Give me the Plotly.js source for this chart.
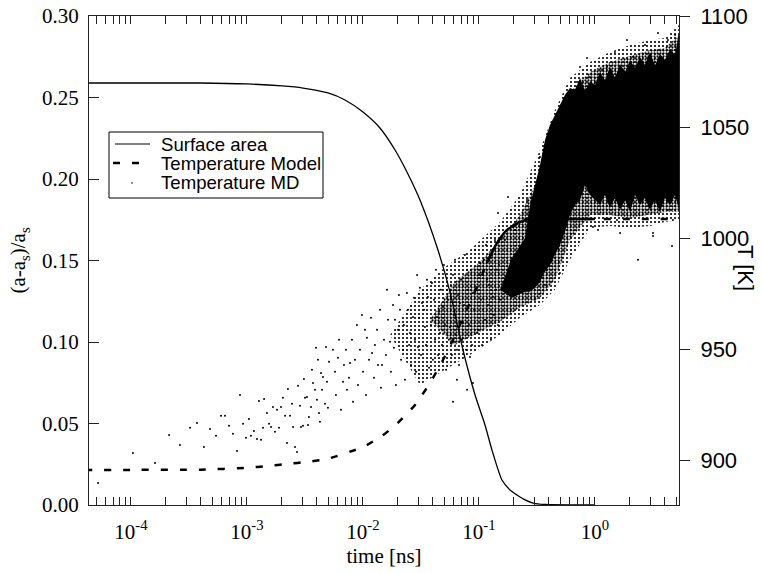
<!DOCTYPE html>
<html><head><meta charset="utf-8">
<script src="https://cdn.plot.ly/plotly-3.0.1.min.js"></script>
<style>html,body{margin:0;padding:0;background:#fff}#chart{width:763px;height:573px}</style>
</head><body><div id="chart"></div>
<script>
// ---- Surface area (left axis) ----
const surfTime = [4e-5, 3.94e-4, 1e-3, 2.0e-3, 3.04e-3, 4.99e-3, 7.0e-3, 0.01, 0.0140, 0.0189, 0.0244, 0.0310, 0.0443, 0.0562, 0.0728, 0.0925, 0.1127, 0.1294, 0.1578, 0.185, 0.2128, 0.2493, 0.2924, 0.3707, 1.0];
const surfValue = [0.2589, 0.2589, 0.2583, 0.2571, 0.2558, 0.2528, 0.2485, 0.2411, 0.2313, 0.2178, 0.2031, 0.1871, 0.1564, 0.1307, 0.0951, 0.0675, 0.0491, 0.0337, 0.0153, 0.0092, 0.0061, 0.0031, 0.0012, 0.0003, 0.0];

// ---- Temperature model (right axis, K) ----
const modelTime = [4e-5, 1e-4, 4e-4, 1e-3, 1.52e-3, 2.25e-3, 3.29e-3, 4.9e-3, 0.01, 0.0146, 0.0196, 0.0281, 0.0378, 0.048, 0.0585, 0.0804, 0.102, 0.117, 0.143, 0.174, 0.225, 0.275, 0.5, 1.0, 2.0, 6.0];
const modelT = [895.8, 895.8, 895.9, 896.7, 897.6, 898.5, 899.4, 900.7, 906.1, 911.1, 916.5, 925.0, 934.9, 944.4, 953.4, 969.1, 981.2, 988.9, 997.9, 1003.7, 1007.3, 1008.7, 1008.7, 1008.7, 1008.7, 1008.7];

// ---- Temperature MD: individual points (log10 of time in ns, T in K) ----
const mdEarlyLogTime = [-4.284, -3.983, -3.793, -3.672, -3.578, -3.491, -3.431, -3.371, -3.319, -3.267, -3.224, -3.190, -3.155, -3.121, -3.086, -3.060, -3.034, -3.009, -2.983, -2.966, -2.940, -2.914, -2.897, -2.879, -2.862, -2.853, -2.828, -2.810, -2.793, -2.776, -2.759, -2.741, -2.724, -2.707, -2.690, -2.672, -2.655, -2.647, -2.629, -2.612, -2.603, -2.586, -2.569, -2.560, -2.543, -2.534, -2.517, -2.509, -2.500, -2.483, -2.474, -2.466, -2.448, -2.440, -2.431, -2.414, -2.405, -2.397, -2.388, -2.379, -2.371, -2.362, -2.353, -2.345, -2.328, -2.319, -2.310, -2.302, -2.293];
const mdEarlyT = [889.9, 903.4, 898.9, 911.5, 907.0, 914.7, 916.9, 906.1, 914.2, 911.1, 920.1, 920.1, 915.6, 912.0, 904.3, 929.5, 916.5, 910.2, 918.7, 911.1, 913.3, 909.7, 926.8, 909.3, 914.7, 927.7, 921.4, 916.5, 915.1, 924.1, 912.9, 922.8, 914.7, 924.1, 928.2, 920.1, 907.9, 932.2, 920.1, 925.5, 915.1, 906.1, 903.9, 933.6, 924.6, 915.1, 915.6, 936.7, 928.2, 928.6, 916.0, 919.6, 924.1, 940.8, 934.9, 931.8, 950.7, 927.3, 945.3, 921.4, 917.4, 939.4, 931.8, 937.6, 925.5, 951.1, 935.4, 923.7, 944.4];

const mdMidLogTime = [-2.259, -2.216, -2.172, -2.112, -2.052, -2.009, -1.966, -1.922, -1.879, -1.836, -1.793, -1.767, -1.724, -1.681, -1.655, -1.621, -1.595, -1.569, -1.534, -1.526, -1.491, -1.466, -1.440, -1.405, -1.397, -1.362, -1.336, -1.310, -1.276, -1.250, -1.224, -1.190, -1.164, -1.138, -1.103, -1.078, -1.052, -1.017, -0.991, -0.966, -0.931, -0.905, -0.879, -0.845, -1.103, -1.190, -1.052, -1.224,
  -2.241, -2.233, -2.207, -2.190, -2.164, -2.147, -2.138, -2.121, -2.095, -2.086, -2.069, -2.043, -2.026, -2.000, -1.983, -1.974, -1.948, -1.931, -1.905, -1.897, -1.871, -1.853, -1.845, -1.819, -1.802, -1.784, -1.759, -1.741, -1.733, -1.716, -1.698, -1.690, -1.672, -1.647, -1.638, -1.612, -1.603, -1.586, -1.560, -1.552, -1.543, -1.517, -1.509, -1.500, -1.474, -1.457, -1.448, -1.431, -1.414, -1.388, -1.379, -1.371, -1.353, -1.345, -1.328, -1.319, -1.302, -1.293, -1.284, -1.267, -1.259, -1.241, -1.233, -1.216, -1.207, -1.198, -1.181, -1.172, -1.155, -1.147, -1.129, -1.121, -1.112, -1.095, -1.086, -1.069, -1.060, -1.043, -1.034, -1.026, -1.009, -1.000, -0.983, -0.974, -0.957, -0.948, -0.940, -0.922, -0.914, -0.897, -0.888, -0.871, -0.862, -0.853, -0.836, -0.828, -0.819];
const mdMidT = [949.8, 946.2, 935.4, 943.9, 961.0, 965.5, 955.2, 948.4, 958.8, 943.0, 976.8, 953.4, 963.3, 967.8, 949.8, 975.4, 957.4, 964.6, 983.5, 951.1, 970.9, 960.1, 973.6, 979.9, 945.3, 964.6, 957.4, 969.1, 976.8, 960.1, 983.5, 949.8, 970.9, 961.9, 985.8, 946.6, 975.4, 957.4, 988.9, 967.8, 981.3, 958.8, 973.6, 985.8, 931.8, 936.3, 934.9, 926.4,
  939.9, 929.5, 954.3, 922.8, 943.0, 949.8, 931.8, 937.2, 954.3, 926.4, 945.3, 934.0, 949.8, 939.9, 958.8, 929.5, 945.3, 964.2, 937.2, 952.0, 943.0, 967.8, 932.7, 954.3, 947.5, 963.3, 939.9, 970.0, 950.7, 934.0, 958.8, 974.5, 945.3, 961.0, 936.3, 967.8, 952.0, 943.0, 973.2, 954.3, 939.9, 964.2, 977.7, 947.5, 967.8, 952.0, 981.3, 941.7, 961.0, 972.3, 954.3, 985.8, 947.5, 966.9, 976.8, 952.0, 988.0, 961.0, 940.8, 972.3, 954.3, 979.0, 947.5, 965.5, 990.3, 956.5, 974.5, 943.0, 981.3, 954.3, 970.0, 992.5, 949.8, 976.8, 961.0, 985.8, 952.0, 967.8, 994.8, 976.8, 958.8, 983.5, 972.3, 952.0, 990.3, 963.3, 997.0, 970.0, 979.0, 954.3, 992.5, 965.5, 999.2, 976.8, 961.0, 988.0, 972.3];

const mdLateLogTime = [0.543, 0.629, 0.276, 0.328, 0.103, -0.043, -0.069, 0.060, -0.129, -0.155, -0.241, -0.328, -0.371, -0.414, -0.474, -0.017, 0.026, 0.216, 0.371, 0.500, 0.629, 0.190, 0.672, 0.500, 0.664, -0.750, -0.836, -0.586, -0.647, -0.414, -0.302, -0.362, -0.690, -0.517, -0.431, -0.776, -0.716, -0.560, 0.690, 0.431, 0.172];
const mdLateT = [1092.4, 1089.2, 1089.2, 1081.6, 1077.1, 1072.6, 1081.1, 1075.7, 1077.1, 1070.3, 1057.7, 1049.6, 1045.6, 1035.2, 1036.6, 1005.1, 1003.7, 1002.4, 990.3, 1002.4, 1012.7, 1008.2, 1008.2, 1001.0, 996.5, 1018.6, 1011.4, 1017.2, 988.9, 987.1, 984.4, 993.4, 1003.7, 972.3, 979.0, 999.2, 990.3, 997.0, 1091.5, 1087.0, 1083.8];

// ---- Temperature MD: envelopes of the dense point cloud (log10 time, T) ----
const mdOuterLogTime = [-1.767, -1.509, -1.293, -1.078, -0.819, -0.647, -0.474, -0.345, -0.216, -0.043, 0.129, 0.302, 0.474, 0.603, 0.724];
const mdOuterUpper = [956.5, 976.8, 987.1, 994.8, 1007.3, 1019.5, 1039.7, 1057.7, 1072.1, 1079.3, 1083.8, 1087.0, 1089.2, 1090.1, 1096.0];
const mdOuterLower = [956.5, 934.0, 940.8, 947.5, 956.5, 964.2, 970.0, 976.8, 990.3, 1004.6, 1005.5, 1004.6, 1005.5, 1007.3, 1008.2];

const mdMidBandLogTime = [-1.422, -1.207, -0.991, -0.819, -0.647, -0.474, -0.345, -0.216, -0.043, 0.129, 0.302, 0.474, 0.603, 0.724];
const mdMidBandUpper = [963.3, 980.4, 989.4, 999.2, 1010.5, 1028.5, 1048.7, 1065.8, 1074.8, 1079.3, 1082.0, 1084.7, 1085.6, 1091.5];
const mdMidBandLower = [963.3, 952.0, 957.9, 962.4, 968.7, 973.2, 981.3, 999.2, 1010.5, 1010.5, 1009.1, 1010.5, 1011.8, 1011.8];

const mdCoreLogTime = [-0.819, -0.716, -0.603, -0.560, -0.517, -0.474, -0.431, -0.388, -0.345, -0.302, -0.259, -0.216, -0.172, -0.129, -0.086, -0.043, 0, 0.043, 0.086, 0.129, 0.172, 0.216, 0.259, 0.302, 0.345, 0.388, 0.431, 0.474, 0.517, 0.560, 0.603, 0.647, 0.690, 0.724];
const mdCoreUpper = [976.8, 991.2, 1000.1, 1015.0, 1024.0, 1033.0, 1044.2, 1051.0, 1055.5, 1060.0, 1064.5, 1067.6, 1066.7, 1072.1, 1066.5, 1070.3, 1069.0, 1074.8, 1071.2, 1077.0, 1072.2, 1078.3, 1074.8, 1080.1, 1076.6, 1081.5, 1078.0, 1083.7, 1077.7, 1082.8, 1080.2, 1085.0, 1082.5, 1092.7];
const mdCoreLower = [976.8, 973.2, 975.9, 975.9, 977.7, 980.4, 984.9, 988.0, 992.5, 997.0, 1002.8, 1010.5, 1015.0, 1017.2, 1024.0, 1019.5, 1017.2, 1015.0, 1019.5, 1013.6, 1018.1, 1012.7, 1017.2, 1011.8, 1019.5, 1015.0, 1018.1, 1012.7, 1017.2, 1011.8, 1018.1, 1015.0, 1019.5, 1012.7];

// ---- Axis ticks ----
const xTickVals = [1e-4, 1e-3, 1e-2, 1e-1, 1];
const xTickText = ['10<sup>-4</sup>', '10<sup>-3</sup>', '10<sup>-2</sup>', '10<sup>-1</sup>', '10<sup>0</sup>'];
const leftTickVals = [0, 0.05, 0.10, 0.15, 0.20, 0.25, 0.30];
const leftTickText = ['0.00', '0.05', '0.10', '0.15', '0.20', '0.25', '0.30'];
const rightTickVals = [900, 950, 1000, 1050, 1100];
const rightTickText = ['900', '950', '1000', '1050', '1100'];

const legendLabels = ['Surface area', 'Temperature Model', 'Temperature MD'];

// ---- build ----
const fromLog = a => a.map(v => Math.pow(10, v));
const mdLogTime = mdEarlyLogTime.concat(mdMidLogTime, mdLateLogTime);
const mdT = mdEarlyT.concat(mdMidT, mdLateT);

const minorVals = [];
for (let d = -5; d <= 0; d++) for (let k = 2; k <= 9; k++) minorVals.push(k * Math.pow(10, d));

const serifSpan = s => '<span style="font-family:Liberation Serif">' + s + '</span>';

function band(logT, lower, upper, fillStyle) {
  return [
    {x: fromLog(logT), y: lower, xaxis: 'x', yaxis: 'y2', mode: 'lines', line: {width: 0, color: 'rgba(0,0,0,0)'}, hoverinfo: 'skip', showlegend: false},
    Object.assign({x: fromLog(logT), y: upper, xaxis: 'x', yaxis: 'y2', mode: 'lines', line: {width: 0, color: 'rgba(0,0,0,0)'}, fill: 'tonexty', hoverinfo: 'skip', showlegend: false}, fillStyle)
  ];
}

const solidStart = modelTime.indexOf(0.117), solidEnd = modelTime.indexOf(1.0);

const traces = [
  {x: surfTime, y: surfValue, xaxis: 'x', yaxis: 'y', mode: 'lines', name: legendLabels[0], line: {color: '#000', width: 1.3, shape: 'spline', smoothing: 0.6}},
  ...band(mdOuterLogTime, mdOuterLower, mdOuterUpper, {fillcolor: 'rgba(0,0,0,0)', fillpattern: {shape: '.', fgcolor: '#000', bgcolor: 'rgba(0,0,0,0)', size: 4, solidity: 0.22}}),
  ...band(mdMidBandLogTime, mdMidBandLower, mdMidBandUpper, {fillcolor: 'rgba(0,0,0,0)', fillpattern: {shape: '.', fgcolor: '#000', bgcolor: 'rgba(0,0,0,0)', size: 3, solidity: 0.45}}),
  ...band(mdCoreLogTime, mdCoreLower, mdCoreUpper, {fillcolor: '#000'}),
  {x: fromLog(mdLogTime), y: mdT, xaxis: 'x', yaxis: 'y2', mode: 'markers', name: legendLabels[2], marker: {color: '#000', size: 2}},
  {x: modelTime, y: modelT, xaxis: 'x', yaxis: 'y2', mode: 'lines', name: legendLabels[1], line: {color: '#000', width: 2.5, dash: '7px,12px', shape: 'spline', smoothing: 0.5}},
  {x: modelTime.slice(solidStart, solidEnd + 1), y: modelT.slice(solidStart, solidEnd + 1), xaxis: 'x', yaxis: 'y2', mode: 'lines', showlegend: false, line: {color: '#000', width: 2.5, shape: 'spline', smoothing: 0.5}}
];

const L = 89, R = 679, TOP = 16, BOT = 505;
const px = v => (v - L) / (R - L);
const py = v => (BOT - v) / (BOT - TOP);

const serif = "Liberation Serif";
const sans = "Liberation Sans";

const shapes = [
  {type: 'rect', xref: 'paper', yref: 'paper', x0: px(109), x1: px(323), y0: py(198), y1: py(132), line: {color: '#000', width: 1}, fillcolor: '#fff', layer: 'above'},
  {type: 'line', xref: 'paper', yref: 'paper', x0: px(115), x1: px(150), y0: py(144), y1: py(144), line: {color: '#000', width: 1.2}},
  {type: 'line', xref: 'paper', yref: 'paper', x0: px(113), x1: px(120), y0: py(163), y1: py(163), line: {color: '#000', width: 2.5}},
  {type: 'line', xref: 'paper', yref: 'paper', x0: px(132), x1: px(139), y0: py(163), y1: py(163), line: {color: '#000', width: 2.5}},
  {type: 'circle', xref: 'paper', yref: 'paper', x0: px(131.2), x1: px(132.8), y0: py(183.8), y1: py(182.2), line: {color: '#000', width: 0}, fillcolor: '#000'}
];

const annotations = legendLabels.map((t, i) => ({
  text: t, xref: 'paper', yref: 'paper', x: px(159), y: py([144, 163, 183][i]), xanchor: 'left', yanchor: 'middle',
  showarrow: false, font: {family: sans, size: 18.6, color: '#000'}
}));
annotations.push({text: 'T [K]', xref: 'paper', yref: 'paper', x: px(746), y: py(268), xanchor: 'center', yanchor: 'middle', textangle: 90, showarrow: false, font: {family: sans, size: 22, color: '#000'}});

const layout = {
  width: 763, height: 573,
  margin: {l: L, r: 763 - R, t: TOP, b: 573 - BOT},
  paper_bgcolor: '#fff', plot_bgcolor: '#fff',
  showlegend: false,
  font: {family: serif, size: 21, color: '#000'},
  xaxis: {
    type: 'log', range: [Math.log10(4.345e-5), Math.log10(5.3)],
    tickmode: 'array', tickvals: xTickVals, ticktext: xTickText.map(serifSpan),
    ticks: 'inside', ticklen: 8, tickwidth: 1, tickcolor: '#222',
    minor: {tickvals: minorVals, ticks: 'inside', ticklen: 5, tickwidth: 1, tickcolor: '#222'},
    showline: true, linecolor: '#222', linewidth: 1, mirror: 'allticks',
    showgrid: false, zeroline: false,
    ticklabelstandoff: 8,
    tickfont: {family: serif, size: 21, color: '#000'},
    title: {text: 'time [ns]', font: {family: serif, size: 21, color: '#000'}, standoff: 5}
  },
  yaxis: {
    range: [0, 0.30], tickmode: 'array', tickvals: leftTickVals, ticktext: leftTickText.map(serifSpan),
    ticks: 'inside', ticklen: 10, tickwidth: 1, tickcolor: '#222',
    showline: true, linecolor: '#222', linewidth: 1,
    showgrid: false, zeroline: false,
    ticklabelstandoff: 5,
    tickfont: {family: serif, size: 21, color: '#000'},
    title: {text: '(a-a<sub>s</sub>)/a<sub>s</sub>', font: {family: serif, size: 21, color: '#000'}, standoff: 10}
  },
  yaxis2: {
    overlaying: 'y', side: 'right', range: [880, 1100], tickmode: 'array', tickvals: rightTickVals, ticktext: rightTickText,
    ticks: 'outside', ticklen: 10, tickwidth: 1, tickcolor: '#222',
    showline: true, linecolor: '#222', linewidth: 1,
    showgrid: false, zeroline: false,
    ticklabelstandoff: 6,
    tickfont: {family: sans, size: 22, color: '#000'}
  },
  shapes: shapes,
  annotations: annotations
};

Plotly.newPlot('chart', traces, layout, {displayModeBar: false, staticPlot: true});
</script></body></html>
